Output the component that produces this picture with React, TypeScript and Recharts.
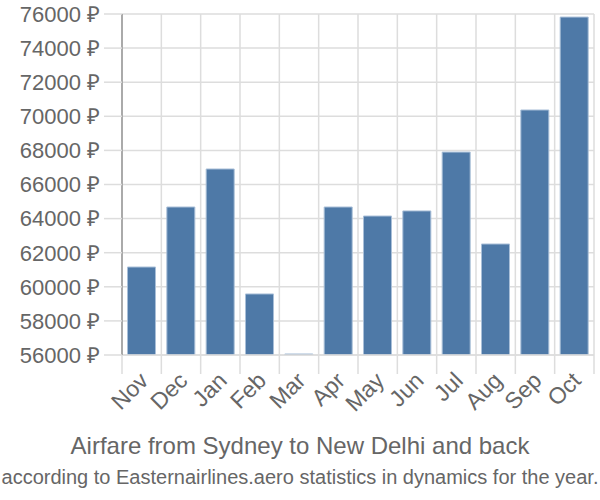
import { BarChart, Bar, XAxis, YAxis, CartesianGrid } from "recharts";

const months = ["Nov", "Dec", "Jan", "Feb", "Mar", "Apr", "May", "Jun", "Jul", "Aug", "Sep", "Oct"];
const prices = [61160, 64680, 66910, 59580, 56060, 64680, 64150, 64450, 67900, 62510, 70370, 75820];
const yTicks = [56000, 58000, 60000, 62000, 64000, 66000, 68000, 70000, 72000, 74000, 76000];

const data = months.map((m, i) => ({ month: m, price: prices[i] }));

const FONT = "'Liberation Sans', Arial, sans-serif";
const TEXT = "#666";
const GRID = "#ddd";

type TickProps = {
  x?: number;
  y?: number;
  index?: number;
  width?: number;
  visibleTicksCount?: number;
  payload?: { value: string };
};

// month label plus the boundary tick marks between categories
const MonthTick = ({ x = 0, y = 0, index = 0, width = 0, visibleTicksCount = 1, payload }: TickProps) => {
  const slot = width / visibleTicksCount;
  const tx = x + 8;
  const ty = y + 27;
  return (
    <g>
      <line x1={x - slot / 2} x2={x - slot / 2} y1={y} y2={y + 19} stroke={GRID} strokeWidth={1.5} />
      {index === visibleTicksCount - 1 && (
        <line x1={x + slot / 2} x2={x + slot / 2} y1={y} y2={y + 19} stroke={GRID} strokeWidth={1.5} />
      )}
      <text
        x={tx}
        y={ty}
        transform={`rotate(-45, ${tx}, ${ty})`}
        textAnchor="end"
        fontSize={23}
        fontFamily={FONT}
        fill={TEXT}
      >
        {payload?.value}
      </text>
    </g>
  );
};

export default function App() {
  return (
    <div style={{ position: "absolute", left: 0, top: 0, width: 600, height: 500, background: "#fff" }}>
      <BarChart
        width={600}
        height={500}
        data={data}
        margin={{ top: 14, right: 6, left: 0, bottom: 0 }}
        barCategoryGap="14%"
      >
        <CartesianGrid
          stroke={GRID}
          strokeWidth={1.5}
          verticalCoordinatesGenerator={({ offset }: { offset: { left: number; width: number } }) =>
            months.map((_, i) => offset.left + ((i + 1) * offset.width) / months.length)
          }
        />
        <XAxis
          dataKey="month"
          height={145}
          interval={0}
          tickSize={0}
          tickMargin={0}
          tickLine={false}
          axisLine={{ stroke: GRID, strokeWidth: 1.5 }}
          tick={<MonthTick />}
        />
        <YAxis
          domain={[56000, 76000]}
          ticks={yTicks}
          interval={0}
          width={122}
          tickSize={18}
          tickMargin={4}
          tickFormatter={(v: number) => `${v} ₽`}
          tick={{ fontSize: 22, fontFamily: FONT, fill: TEXT }}
          tickLine={{ stroke: GRID, strokeWidth: 1.5 }}
          axisLine={{ stroke: "#aaa", strokeWidth: 2 }}
          allowDataOverflow
        />
        <Bar
          dataKey="price"
          fill="#4e79a7"
          stroke="#a9bfd8"
          strokeWidth={1}
          isAnimationActive={false}
        />
      </BarChart>
      <div
        style={{
          position: "absolute",
          left: 0,
          top: 431,
          width: 600,
          textAlign: "center",
          fontFamily: FONT,
          fontSize: 24,
          color: TEXT,
          lineHeight: "30px",
        }}
      >
        Airfare from Sydney to New Delhi and back
      </div>
      <div
        style={{
          position: "absolute",
          left: 0,
          top: 462,
          width: 600,
          textAlign: "center",
          fontFamily: FONT,
          fontSize: 20,
          color: TEXT,
          lineHeight: "30px",
          whiteSpace: "nowrap",
        }}
      >
        according to Easternairlines.aero statistics in dynamics for the year.
      </div>
    </div>
  );
}
